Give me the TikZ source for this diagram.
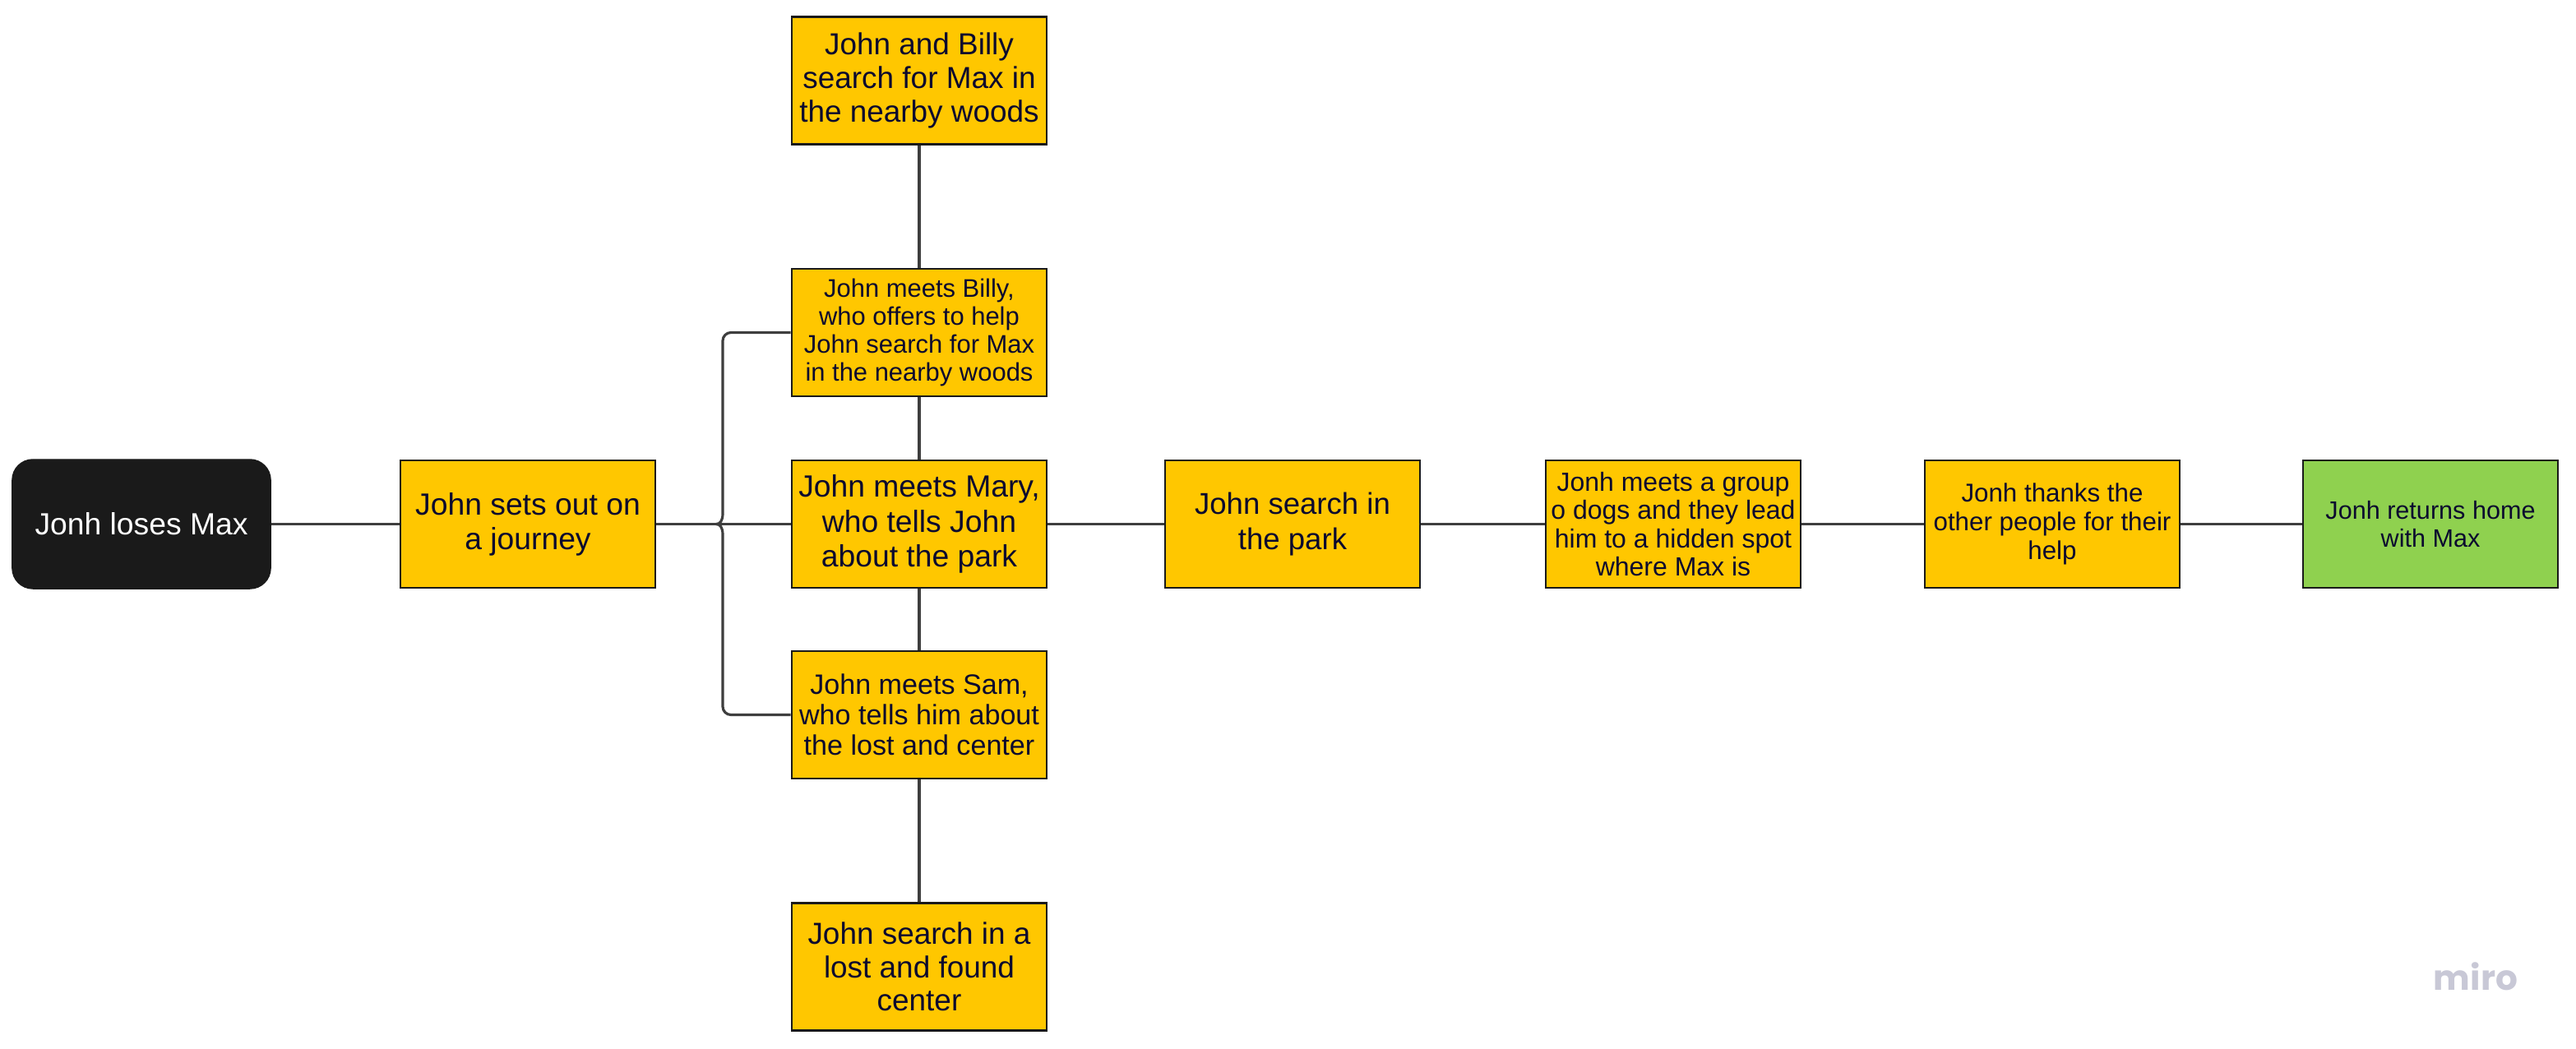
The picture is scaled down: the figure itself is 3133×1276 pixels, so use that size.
\documentclass[tikz,border=0pt]{standalone}
\usepackage{fontspec}
\setmainfont{Liberation Sans}
\newfontfamily\mirofont{Poppins}
\definecolor{boxyellow}{HTML}{FFC700}
\definecolor{boxgreen}{HTML}{8FD14F}
\definecolor{boxblack}{HTML}{1A1A1A}
\definecolor{txtcol}{HTML}{0B0A2E}
\definecolor{linecol}{HTML}{3E3E3E}
\definecolor{logocol}{HTML}{C8C8D6}
\tikzset{
  card/.style={draw=boxblack, line width=0.7pt, fill=boxyellow, text=txtcol,
    minimum width=3.1cm, minimum height=1.55cm, inner sep=0pt, align=center},
  greencard/.style={card, fill=boxgreen},
  startcard/.style={draw=boxblack, fill=boxblack, text=white, rounded corners=0.25cm,
    minimum width=3.14cm, minimum height=1.57cm, inner sep=0pt, align=center},
  conn/.style={draw=linecol, line width=0.9pt},
}
\begin{document}
\begin{tikzpicture}[x=0.01cm, y=-0.01cm]
\useasboundingbox[fill=white] (0,0) rectangle (3133,1276);

\node[startcard, font=\fontsize{10.6}{12}\selectfont] (loses) at (172,637.5) {Jonh loses Max};
\node[card, font=\fontsize{10.6}{12}\selectfont] (journey) at (642,637.5) {John sets out on\\a journey};

\node[card, font=\fontsize{10.5}{11.7}\selectfont] (woods) at (1118,98) {John and Billy\\search for Max in\\the nearby woods};
\node[card, font=\fontsize{8.8}{9.7}\selectfont] (billy) at (1118,404.5) {John meets Billy,\\who offers to help\\John search for Max\\in the nearby woods};
\node[card, font=\fontsize{10.6}{12}\selectfont] (mary) at (1118,637.5) {John meets Mary,\\who tells John\\about the park};
\node[card, font=\fontsize{9.7}{10.5}\selectfont] (sam) at (1118,869.5) {John meets Sam,\\who tells him about\\the lost and center};
\node[card, font=\fontsize{10.5}{11.5}\selectfont] (lost) at (1118,1176) {John search in a\\lost and found\\center};

\node[card, font=\fontsize{10.4}{12}\selectfont] (park) at (1572,637.5) {John search in\\the park};
\node[card, font=\fontsize{9.1}{9.8}\selectfont] (group) at (2035,637.5) {Jonh meets a group\\o dogs and they lead\\him to a hidden spot\\where Max is};
\node[card, font=\fontsize{8.9}{10}\selectfont] (thanks) at (2496,637.5) {Jonh thanks the\\other people for their\\help};
\node[greencard, font=\fontsize{8.7}{9.8}\selectfont] (home) at (2956,637.5) {Jonh returns home\\with Max};

\coordinate (cusp) at (871,637.5);

\draw[conn] (loses.east) -- (journey.west);
\draw[conn, line width=1.1pt] (journey.east) -- (cusp);
\draw[conn] (cusp) -- (mary.west);
\draw[conn] (billy.west) -- (889,404.5)
  .. controls (883.5,404.5) and (879,409) .. (879,414.5)
  -- (879,625)
  .. controls (879,633) and (876,637.5) .. (cusp)
  .. controls (876,637.5) and (879,642) .. (879,650)
  -- (879,859.5)
  .. controls (879,865) and (883.5,869.5) .. (889,869.5)
  -- (sam.west);

\draw[conn] (woods.south) -- (billy.north);
\draw[conn] (billy.south) -- (mary.north);
\draw[conn] (mary.south) -- (sam.north);
\draw[conn] (sam.south) -- (lost.north);

\draw[conn] (mary.east) -- (park.west);
\draw[conn] (park.east) -- (group.west);
\draw[conn] (group.east) -- (thanks.west);
\draw[conn] (thanks.east) -- (home.west);

\node[text=logocol, font=\mirofont\bfseries\fontsize{12}{14}\selectfont, inner sep=0pt] (logo) at (3011,1188) {miro};
\end{tikzpicture}
\end{document}
